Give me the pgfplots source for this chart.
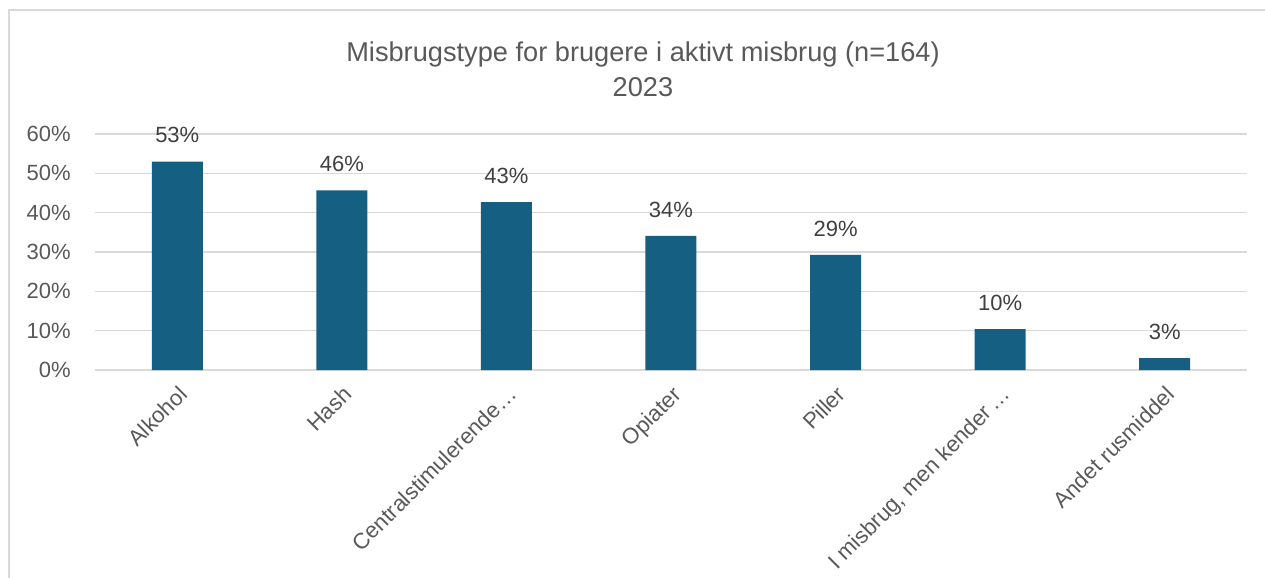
\documentclass[border=0pt]{standalone}
\usepackage{fontspec}
\setmainfont{Liberation Sans}
\usepackage{pgfplots}
\pgfplotsset{compat=1.18}
\definecolor{barc}{HTML}{156082}
\definecolor{txt}{HTML}{595959}
\definecolor{lbl}{HTML}{404040}
\definecolor{gridc}{HTML}{D9D9D9}
\begin{document}
\begin{tikzpicture}[x=1pt,y=1pt]
\useasboundingbox (-47.5,-104) rectangle (585,185);
\draw[gridc, line width=0.75pt] (-43,-104) -- (-43,180) -- (585,180);
\node[align=center, text=txt, font=\fontsize{13.6}{17.5}\selectfont] at (274,150.5) {Misbrugstype for brugere i aktivt misbrug (n=164)\\2023};
\begin{axis}[at={(0,0)}, anchor=south west, scale only axis,
  width=576pt, height=118pt,
  ymin=0, ymax=60, xmin=-0.5, xmax=6.5,
  axis line style={draw=none},
  ytick={0,10,...,60},
  /pgf/number format/assume math mode=true,
  yticklabel={\pgfmathprintnumber{\tick}\%},
  yticklabel style={text=txt, font=\fontsize{11}{13}\selectfont, anchor=east, inner sep=0pt, xshift=-12pt},
  ymajorgrids, grid style={gridc, line width=0.75pt},
  major tick length=0pt,
  xtick={0,...,6},
  xticklabels={Alkohol, Hash, Centralstimulerende…, Opiater, Piller, {I misbrug, men kender\,…}, Andet rusmiddel},
  xticklabel style={text=txt, font=\fontsize{11.1}{13}\selectfont, rotate=45, anchor=north east, inner sep=0pt, xshift=-5pt, yshift=-5pt},
  ybar, bar width=25.5pt,
  nodes near coords={\pgfmathprintnumber[fixed,precision=0]{\pgfplotspointmeta}\%},
  nodes near coords style={text=lbl, font=\fontsize{11}{13}\selectfont, anchor=south, inner sep=0pt, yshift=9pt},
  clip=false,
]
\addplot[fill=barc, draw=none] coordinates {(0,53.0) (1,45.7) (2,42.7) (3,34.1) (4,29.3) (5,10.4) (6,3.0)};
\end{axis}
\end{tikzpicture}
\end{document}
